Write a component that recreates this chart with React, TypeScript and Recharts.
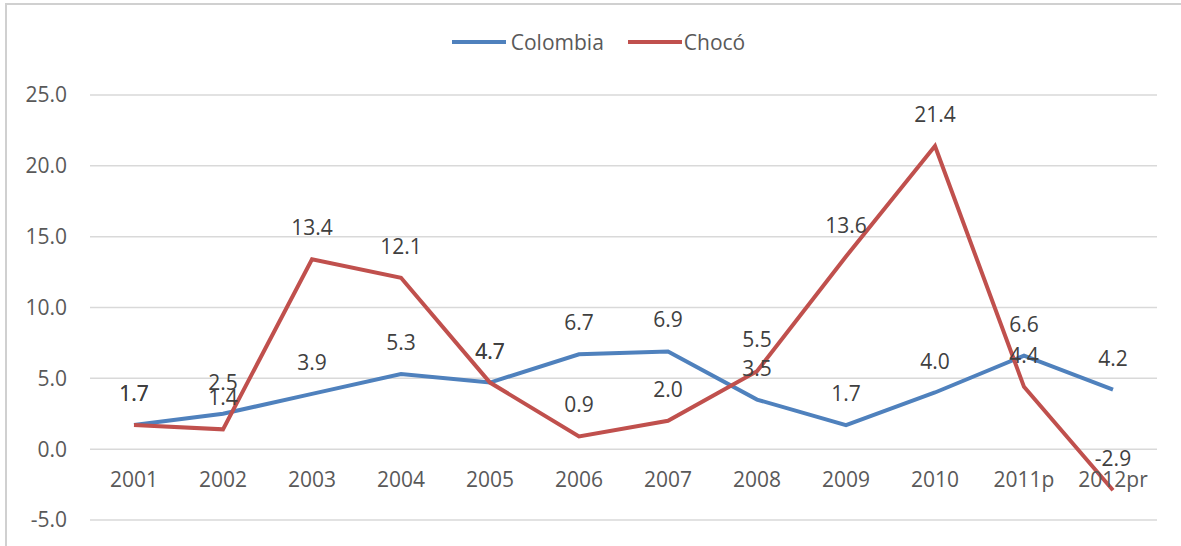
import React from "react";
import {
  LineChart, Line, XAxis, YAxis, CartesianGrid, LabelList,
} from "recharts";

const categories = ["2001", "2002", "2003", "2004", "2005", "2006", "2007", "2008", "2009", "2010", "2011p", "2012pr"];
const colombia = [1.7, 2.5, 3.9, 5.3, 4.7, 6.7, 6.9, 3.5, 1.7, 4.0, 6.6, 4.2];
const choco = [1.7, 1.4, 13.4, 12.1, 4.7, 0.9, 2.0, 5.5, 13.6, 21.4, 4.4, -2.9];
const yTicks = [-5, 0, 5, 10, 15, 20, 25];

const data = categories.map((c, i) => ({ year: c, colombia: colombia[i], choco: choco[i] }));

const W = 1181;
const H = 546;
const M_TOP = 95;
const M_BOTTOM = 6;
const X_AXIS_H = 20;
const PLOT_H = H - M_TOP - M_BOTTOM - X_AXIS_H;
const Y_MIN = -5;
const Y_MAX = 25;
const ZERO_Y = M_TOP + (PLOT_H * (Y_MAX - 0)) / (Y_MAX - Y_MIN);

const FONT = "'Open Sans', sans-serif";
const TICK_COLOR = "#595959";
const BLUE = "#4f81bd";
const RED = "#c0504d";

const fmt = (v: any) => Number(v).toFixed(1);

// x labels sit just under the 0 line, like the Excel original
const XTick = (props: any) => {
  const { x, payload } = props;
  return (
    <text x={x} y={ZERO_Y + 38} textAnchor="middle" fill={TICK_COLOR} fontSize={21} fontFamily={FONT}>
      {payload.value}
    </text>
  );
};

const series = [
  { name: "Colombia", color: BLUE, gap: 5 },
  { name: "Chocó", color: RED, gap: 2 },
];

export default function App() {
  return (
    <div style={{ position: "fixed", left: 0, top: 0, width: W, height: H, background: "#fff", overflow: "hidden" }}>
      {/* chart frame, cut off at right and bottom like the source */}
      <div
        style={{
          position: "absolute", left: 5, top: 3, width: W + 20, height: H + 20,
          borderLeft: "2px solid #d0d0d0", borderTop: "2px solid #d0d0d0",
        }}
      />
      <div style={{ position: "absolute", left: 0, top: 0 }}>
        <LineChart width={W} height={H} data={data} margin={{ top: M_TOP, right: 24, bottom: M_BOTTOM, left: 0 }}>
          <CartesianGrid vertical={false} stroke="#d9d9d9" strokeWidth={1.5} />
          <XAxis
            dataKey="year"
            axisLine={false}
            tickLine={false}
            height={X_AXIS_H}
            padding={{ left: 44, right: 44 }}
            tick={XTick}
            interval={0}
          />
          <YAxis
            width={90}
            domain={[Y_MIN, Y_MAX]}
            ticks={yTicks}
            axisLine={false}
            tickLine={false}
            tickSize={0}
            tickMargin={23}
            tickFormatter={fmt}
            tick={{ fill: TICK_COLOR, fontSize: 21, fontFamily: FONT }}
          />
          <Line
            type="linear"
            dataKey="colombia"
            name="Colombia"
            stroke={BLUE}
            strokeWidth={4}
            dot={false}
            isAnimationActive={false}
          >
            <LabelList dataKey="colombia" position="top" offset={24} formatter={fmt} fill="#404040" fontSize={21} fontFamily={FONT} />
          </Line>
          <Line
            type="linear"
            dataKey="choco"
            name="Chocó"
            stroke={RED}
            strokeWidth={4}
            dot={false}
            isAnimationActive={false}
          >
            <LabelList dataKey="choco" position="top" offset={24} formatter={fmt} fill="#404040" fontSize={21} fontFamily={FONT} />
          </Line>
        </LineChart>
      </div>
      {/* legend */}
      <div
        style={{
          position: "absolute", top: 28, left: 8, width: W, display: "flex", justifyContent: "center",
          alignItems: "center", fontFamily: FONT, fontSize: 21, color: TICK_COLOR,
        }}
      >
        {series.map((s, i) => (
          <React.Fragment key={s.name}>
            <span style={{ display: "inline-block", width: 54, height: 4, background: s.color, marginRight: s.gap }} />
            <span style={{ marginRight: i === 0 ? 24 : 0 }}>{s.name}</span>
          </React.Fragment>
        ))}
      </div>
    </div>
  );
}
